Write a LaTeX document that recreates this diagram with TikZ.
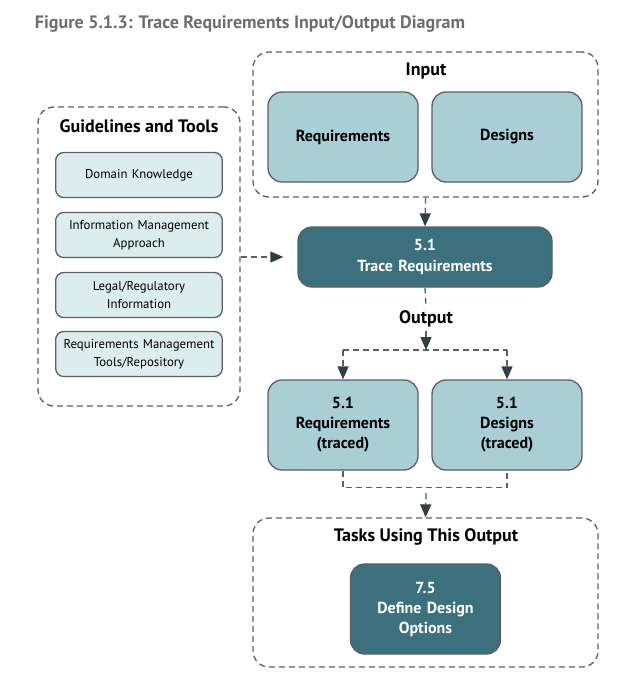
\documentclass[tikz,border=0pt]{standalone}
\usepackage{fontspec}
\setmainfont{PT Sans}
\usetikzlibrary{arrows.meta}
\definecolor{tealdark}{HTML}{3B707C}
\definecolor{teallight}{HTML}{A9CFD4}
\definecolor{tealpale}{HTML}{DCEDED}
\definecolor{framegray}{HTML}{5A5F63}
\definecolor{arrowdark}{HTML}{2E3F46}
\definecolor{titlegray}{HTML}{6B6E70}

\begin{document}
\begin{tikzpicture}[x=1pt,y=-1pt, line width=1.3pt,
	tip/.style={-{Triangle[length=13pt,width=11pt,color=arrowdark]}}]
	\tikzstyle{group} = [draw=framegray, dash pattern=on 6pt off 4pt, rounded corners=16pt, inner sep=0pt]
	\tikzstyle{item} = [draw=framegray, fill=teallight, rounded corners=14pt, minimum width=150pt, minimum height=90pt, text width=140pt, align=center, font=\fontsize{16}{20}\selectfont\bfseries]
	\tikzstyle{task} = [item, fill=tealdark, text=white]
	\tikzstyle{tool} = [draw=framegray, fill=tealpale, rounded corners=8pt, minimum width=166pt, minimum height=45pt, text width=160pt, align=center, font=\fontsize{12.8}{18}\selectfont]
	\tikzstyle{head} = [font=\fontsize{18}{20}\selectfont\bfseries]
	\tikzstyle{link} = [draw=framegray, dash pattern=on 6pt off 4pt]
	\useasboundingbox (0,0) rectangle (642,685);
	
	% Title
	\node[anchor=west, text=titlegray, font=\fontsize{18}{20}\selectfont\bfseries] (title) at (31,24) {Figure 5.1.3: Trace Requirements Input/Output Diagram};
	
	% Input
	\node[group, minimum width=345pt, minimum height=145pt] (input) at (425.5,124.5) {};
	\node[head] (inputlbl) at (426,71) {Input};
	\node[item] (req) at (343,137) {Requirements};
	\node[item] (des) at (507,137) {Designs};
	
	% Task
	\node[task, minimum width=254pt, minimum height=60pt, text width=240pt, font=\fontsize{16}{21}\selectfont\bfseries] (trace) at (425,257) {5.1\\Trace Requirements};
	
	% Guidelines and Tools
	\node[group, minimum width=202pt, minimum height=299pt] (guide) at (139,256.5) {};
	\node[head] (guidelbl) at (139,126) {Guidelines and Tools};
	\node[tool] (domain) at (139,175) {Domain Knowledge};
	\node[tool] (infomgmt) at (139,235) {Information Management\\Approach};
	\node[tool] (legal) at (139,295) {Legal/Regulatory\\Information};
	\node[tool] (reqmgmt) at (139,354) {Requirements Management\\Tools/Repository};
	
	% Output
	\node[head] (outputlbl) at (426,319) {Output};
	\coordinate (split) at (426,350);
	\node[item] (reqtr) at (343,425) {5.1\\Requirements\\(traced)};
	\node[item] (destr) at (507,425) {5.1\\Designs\\(traced)};
	
	% Tasks Using This Output
	\node[group, minimum width=345pt, minimum height=149pt] (tasks) at (425.5,592.5) {};
	\node[head] (taskslbl) at (426,537) {Tasks Using This Output};
	\node[task] (define) at (425.5,609) {7.5\\Define Design\\Options};
	\coordinate (join) at (426,493);
	
	% Draw arrows
	\draw[link, tip] (input.south) -- (trace.north);
	\draw[link, tip, shorten >=14pt] (guide.east |- trace.west) -- (trace.west);
	\draw[link] (trace.south) -- (outputlbl.north);
	\draw[link, tip] (outputlbl.south) -- (split);
	\draw[link] (reqtr.north |- split) -- (destr.north |- split);
	\draw[link, tip] (reqtr.north |- split) -- (reqtr.north);
	\draw[link, tip] (destr.north |- split) -- (destr.north);
	\draw[link] (reqtr.south) -- ++(0,17) -| (destr.south);
	\draw[link, tip] (join) -- (tasks.north);
	
\end{tikzpicture}
\end{document}
